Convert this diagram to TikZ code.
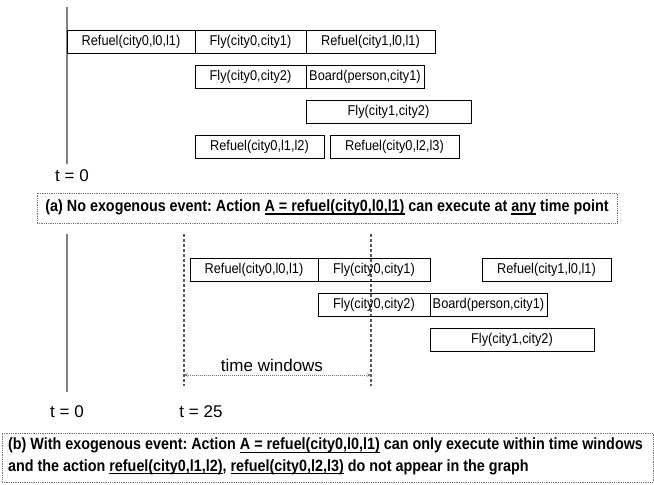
\documentclass[tikz,border=0pt]{standalone}
\usepackage{fontspec}
\setmainfont{Liberation Sans}
\newfontfamily\capfont[FakeStretch=0.88]{Liberation Sans}
\newfontfamily\boxfont[FakeStretch=0.9]{Liberation Sans}
\newsavebox\ulbox
\newcommand\myul[1]{\sbox\ulbox{#1}\rlap{\rule[-3pt]{\wd\ulbox}{1.3pt}}\usebox\ulbox}
\usetikzlibrary{arrows.meta}
\frenchspacing
\begin{document}
\begin{tikzpicture}[x=1pt,y=-1pt,
  actbox/.style={draw=black,line width=0.9pt,inner sep=0pt,minimum height=23pt,
     font=\boxfont\fontsize{14.2}{16}\selectfont},
  timeline/.style={draw=black!50,line width=1.6pt},
  windowline/.style={draw=black!65,line width=1.3pt,dash pattern=on 3pt off 2pt},
  capbox/.style={draw=black!55,line width=0.6pt,dash pattern=on 1pt off 0.8pt},
  captext/.style={font=\capfont\bfseries\fontsize{16.3}{21.5}\selectfont,inner sep=0pt},
  tlabel/.style={font=\fontsize{17}{19}\selectfont,inner sep=0pt}]
\useasboundingbox (0,0) rectangle (654,485);
% ---------- (a) ----------
\coordinate (ta1) at (67,7);
\coordinate (ta2) at (67,164);
\draw[timeline] (ta1) -- (ta2);
\node[actbox,minimum width=128pt] (r1a) at (131,41.5) {Refuel(city0,l0,l1)};
\node[actbox,minimum width=111pt] (r1b) at (250.5,41.5) {Fly(city0,city1)};
\node[actbox,minimum width=129pt] (r1c) at (370.5,41.5) {Refuel(city1,l0,l1)};
\node[actbox,minimum width=111pt] (r2a) at (250.5,76.5) {Fly(city0,city2)};
\node[actbox,minimum width=118pt] (r2b) at (365,76.5) {Board(person,city1)};
\node[actbox,minimum width=165pt] (r3a) at (388.5,111.5) {Fly(city1,city2)};
\node[actbox,minimum width=129pt] (r4a) at (259.5,146.5) {Refuel(city0,l1,l2)};
\node[actbox,minimum width=129pt] (r4b) at (394.5,146.5) {Refuel(city0,l2,l3)};
\node[tlabel] (t0a) at (72,176) {t = 0};
\node[capbox,minimum width=580pt,minimum height=30pt,inner sep=0pt] (capa) at (327,208) {};
\node[captext] (capatext) at (327,207.5) {(a) No exogenous event: Action \myul{A = refuel(city0,l0,l1)} can execute at \myul{any} time point};
% ---------- (b) ----------
\coordinate (tb1) at (67,234);
\coordinate (tb2) at (67,392);
\draw[timeline] (tb1) -- (tb2);
\coordinate (w1t) at (184,234);
\coordinate (w1b) at (184,386);
\coordinate (w2t) at (371,234);
\coordinate (w2b) at (371,386);
\draw[windowline] (w1t) -- (w1b);
\draw[windowline] (w2t) -- (w2b);
\coordinate (arL) at (184,375);
\coordinate (arR) at (371,375);
\draw[draw=black!55,line width=0.7pt,dash pattern=on 1pt off 1pt,
  {Stealth[length=4pt,width=3.5pt]}-{Stealth[length=4pt,width=3.5pt]}] (arL) -- (arR);
\node[font=\fontsize{17}{19}\selectfont,inner sep=0pt,anchor=base] (tw) at (272,371) {time windows};
\node[actbox,minimum width=128pt] (b1a) at (254,269.5) {Refuel(city0,l0,l1)};
\node[actbox,minimum width=112pt] (b1b) at (374,269.5) {Fly(city0,city1)};
\node[actbox,minimum width=129pt] (b1c) at (546.5,269.5) {Refuel(city1,l0,l1)};
\node[actbox,minimum width=112pt] (b2a) at (374,304.5) {Fly(city0,city2)};
\node[actbox,minimum width=117pt] (b2b) at (488.5,304.5) {Board(person,city1)};
\node[actbox,minimum width=164pt] (b3a) at (512,339.5) {Fly(city1,city2)};
\node[tlabel] (t0b) at (67,412) {t = 0};
\node[tlabel] (t25) at (201,412) {t = 25};
\node[capbox,minimum width=651pt,minimum height=49pt,inner sep=0pt] (capb) at (327.5,457.5) {};
\node[captext,anchor=west,align=left] (capbtext) at (8,456.5) {(b) With exogenous event: Action \myul{A = refuel(city0,l0,l1)} can only execute within time windows\\and the action \myul{refuel(city0,l1,l2)}, \myul{refuel(city0,l2,l3)} do not appear in the graph};
\end{tikzpicture}
\end{document}
